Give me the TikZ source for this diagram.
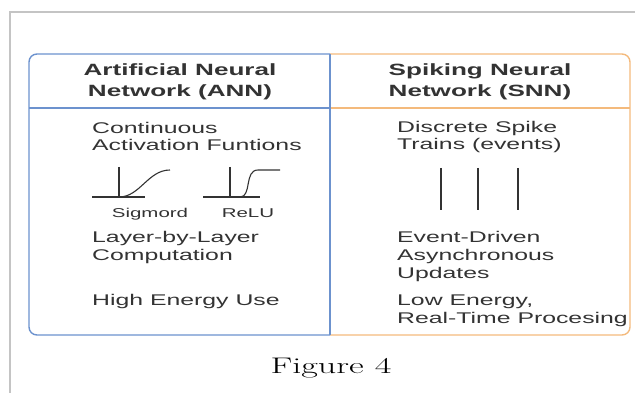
\documentclass[tikz,border=0pt]{standalone}
\usepackage{fontspec}
\newfontfamily\panelfont[FakeStretch=1.6]{Liberation Sans}
\newfontfamily\figfont[FakeStretch=1.6]{Latin Modern Roman}
\usepackage{xcolor}
\definecolor{annblue}{RGB}{108,146,206}
\definecolor{snnorange}{RGB}{244,186,124}
\definecolor{txtgray}{RGB}{51,51,51}
\definecolor{framegray}{RGB}{196,196,196}

\begin{document}
\begin{tikzpicture}[x=1pt, y=-1pt,
    head/.style={font=\panelfont\bfseries\fontsize{16.3}{21}\selectfont,
                 text=txtgray, align=center, anchor=base, inner sep=0pt},
    item/.style={font=\panelfont\fontsize{15.5}{17.7}\selectfont,
                 text=txtgray, align=left, anchor=base west, inner sep=0pt},
    tag/.style={font=\panelfont\fontsize{12.8}{14}\selectfont,
                text=txtgray, anchor=base, inner sep=0pt},
    ann/.style={draw=annblue, line width=1.4pt},
    snn/.style={draw=snnorange, line width=1.4pt},
    curve/.style={draw=txtgray, line width=1.1pt},
]
\useasboundingbox (0,0) rectangle (635,393);

% page frame
\draw[framegray, line width=1.2pt] (10,393) -- (10,12) -- (635,12);

% two panels
\draw[ann, rounded corners=8pt] (330,54) -- (29,54) -- (29,335) -- (330,335);
\draw[snn, rounded corners=8pt] (330,54) -- (630,54) -- (630,335) -- (330,335);
\draw[ann] (29,108) -- (330,108);
\draw[snn] (330,108) -- (630,108);
\draw[ann] (330,54) -- (330,335);

% headers (placed by their last line)
\node[head] (annhead) at (180,97) {Artificial Neural\\Network (ANN)};
\node[head] (snnhead) at (480,97) {Spiking Neural\\Network (SNN)};

% ANN column
\node[item] (cont)   at (92,151) {Continuous\\Activation Funtions};
\node[item] (layer)  at (92,260) {Layer-by-Layer\\Computation};
\node[item] (energy) at (92,305) {High Energy Use};

% activation sketches
\draw[curve] (92,197) -- (145,197);
\draw[curve] (119,167) -- (119,197);
\draw[curve] (119,197) .. controls (140,197) and (148,170) .. (170,170);
\draw[curve] (203,197) -- (260,197);
\draw[curve] (230,167) -- (230,197);
\draw[curve] (230,197) -- (240,197) .. controls (252,197) and (244,170) .. (258,170) -- (280,170);
\node[tag] (sig)  at (150,218) {Sigmord};
\node[tag] (relu) at (248,218) {ReLU};

% SNN column
\node[item] (spike) at (397,150) {Discrete Spike\\Trains (events)};
\node[item] (event) at (397,278) {Event-Driven\\Asynchronous\\Updates};
\node[item] (low)   at (397,323) {Low Energy,\\Real-Time Procesing};

% spike train
\foreach \sx in {441,478,518}
  \draw[curve] (\sx,168) -- (\sx,210);

% caption
\node[font=\figfont\fontsize{22.6}{26}\selectfont, anchor=base, inner sep=0pt]
     (caption) at (331,373) {Figure 4};

\end{tikzpicture}
\end{document}
